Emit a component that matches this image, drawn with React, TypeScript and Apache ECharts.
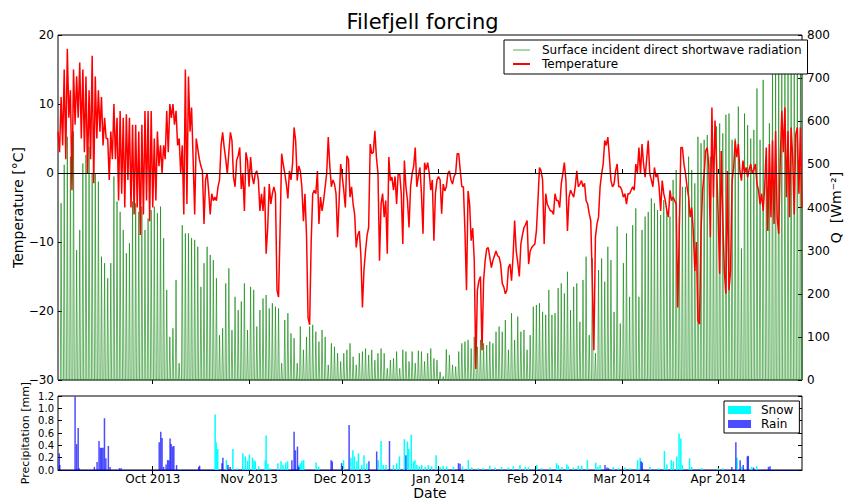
import React, { useEffect, useRef } from "react";
import * as echarts from "echarts";

const FONT = "DejaVu Sans";
const HOUR = 3600 * 1000;
const DAY = 24 * HOUR;
const X_MIN = Date.UTC(2013, 7, 31, 12);
const X_MAX = Date.UTC(2014, 3, 28, 0);

// Temperature [°C], 12-hourly samples starting 2013-08-31 12:00
const TEMP_START = Date.UTC(2013, 7, 31, 12);
const TEMP_STEP = 12 * HOUR;
const temperature = [
  6, 3, 11, 4, 15, 2, 18, 8, 12, -2.5, 15, 7, 14, 8, 16, 5, 15, 3, 14, 0,
  12, 2, 17, -1.5, 14, 5, 12, 6, 11, 4, 8, 5, 5, -1, 6, 2, 10, 2, 8, -4,
  9, -3, 8, -5, 8.5, -1, 8, -5, 7, -6, 7, -5, 6, -9, 7, -6, 9, -4, 9, -7,
  9, -5, 5, -4, 6, 1, 4, 0, 4, 2, 9, 3, 10, 8, 10, 7, 9, 4, 5, 0,
  4, -6, 15, -4.5, 14, 6, 9.5, 2, -6, 5, 3.5, 2, 1, 0.3, -7.4, -1, 0, -2.6, -6, -3,
  -4, -3.5, -4, -2, -1, 4, 5.9, 3.7, 2, -0.1, 3, 5.9, 4.7, -0.6, -2, 1.8, 2.5, 3.7, -2.3, 0,
  -5.5, 3, 1.8, -2, 2.3, -0.5, -1.6, -0.1, 0.3, -1, -5.5, -3, -5.5, -2, -11.7, -8, -1.6, -4.5, -3, -2,
  -3, -17, -18, -7.9, 2.8, 1.3, 0, -1.6, -3.7, 0.3, -1, 1.3, 6.6, 4.7, -1.1, 1, 0.3, -2, -7, -3,
  -9, -21, -22, -10, -3, -2.5, -3, 0.3, -7.4, -3.5, -5.5, -4, -2, 0, 5.2, 1, -2, -1, -1.6, -3,
  -9.3, -4, 1.3, -0.5, -2.6, -5, 2.5, 2, -3.5, -2, -4.5, -6, -10.8, -9, -8.4, -12, -19.5, -14, -11.3, -9,
  -7.9, 4.2, 2.8, 3, 6.1, 2.3, 0, -12.7, -4.5, -3, -6.4, -4, -11.7, 2.3, -1.1, -0.6, -2.5, -0.5, -4.5, -0.1,
  -0.1, -3, -10.3, 1.8, -2, -4, -7.9, -2, -0.1, 1, 3.7, -2, -0.5, 0.8, -3, -8.8, 1.5, 0.5, 1.5, 0,
  -2.5, -1, -9.8, -3, -1, -0.5, -1, -5.9, -1.6, -2.6, -2, -0.1, 0.3, -1, -1.6, -0.5, -0.1, 2.8, 2.8, 0.3,
  -2, -2, -8.4, -17, -2.6, -4.5, -9.8, -8, -12.7, -28.4, -17, -15.6, -15, -25.7, -15.6, -12.7, -11, -10.8, -12.2, -13.7,
  -12.7, -12, -11.3, -12, -12.2, -13.2, -16, -16.5, -17.5, -17, -13.7, -13.2, -15.6, -12, -6.9, -11.3, -13, -15, -10.3, -9,
  -7.9, -7.5, -6.9, -13.2, -11.3, -10.8, -10.5, -10.3, -8.4, -4, 0.8, 0.3, -1, -10.3, -3, -4.5, -5, -5.5, -5.5, -6,
  -3, -4, -4, -5, -1.6, -0.1, 1.5, -1.1, -8.4, -3.5, -2.5, -3, -3.5, -2, 0.3, -2, -1.6, -1.1, -2, -1.5,
  -4, -4.5, -5.9, -6.9, -15.8, -25.7, -9.3, -7.4, -6.4, -2, -0.1, 1.3, 4.7, 4, 5.2, 2.3, -1.1, -2, -1.6, 0.3,
  1.3, -2, -2, -2.5, -3.5, -3, -4.5, -3, -3, -2.5, -2, -2.5, 1.3, 0, 3.7, -0.1, 4.2, 1.3, -0.6, 2,
  4.7, -0.1, -1, -2, 0.8, -0.6, -0.1, -2, -5.5, -1.1, -3, -4, -5.5, -6.4, -2.5, -4, -3.5, -4, -4.5, -19.5,
  -8.4, 3.7, 3.7, 1.3, -0.1, -2, -3.5, -6.4, -5, -8.4, -14.2, -10, -21.4, -21.9, -8.4, -2.5, -0.1, 3.2, 3.7, 1,
  -9.3, 9.5, -3.5, 7.6, 1.3, -5.9, -14.6, 3.2, -6.4, -14.2, -17.5, 0.3, -17, -14.2, -1.1, 0.8, 4.7, 2.3, 4.2, 0.3,
  -1.1, 1.8, -0.1, 0.8, -0.6, 0.5, 1.3, -0.1, 0.5, 1.3, -1.6, -2.5, -4.5, -3, -5.5, -2, 3.7, -8.4, 4.2, -6.4,
  4.7, -7.4, 6.1, -6.4, -8.8, 2, 9, 3, 9.5, -3.5, 6.1, -6.4, 6.6, 2.3, -6, 5.6, 6.6, -3, 6.6, -5,
];

// Daily peak of surface incident direct shortwave radiation [W m-2], one per day from 2013-09-01
const RAD_FIRST_NOON = Date.UTC(2013, 8, 1, 12);
const radiationDailyPeak = [
  410, 499, 564, 518, 576, 301, 348, 502, 522, 541, 479, 479, 460, 286, 271, 236, 271, 472, 414, 390,
  348, 294, 317, 414, 410, 390, 402, 348, 375, 394, 402, 387, 402, 329, 209, 100, 120, 232, 39, 359, 340,
  340, 329, 325, 309, 216, 271, 309, 290, 278, 236, 104, 120, 224, 259, 116, 193, 162, 182, 224, 116,
  216, 209, 124, 162, 189, 197, 166, 178, 170, 166, 39, 139, 155, 108, 97, 39, 124, 70, 100, 124,
  128, 112, 89, 116, 100, 35, 85, 77, 62, 43, 62, 70, 85, 54, 35, 62, 66, 73, 58, 70,
  46, 62, 73, 62, 27, 46, 50, 66, 27, 70, 66, 43, 66, 39, 68, 66, 43, 62, 73, 50,
  46, 19, 8, 71, 58, 35, 31, 66, 85, 89, 93, 73, 100, 77, 93, 85, 81, 89, 85, 112,
  124, 112, 139, 70, 155, 93, 147, 112, 116, 70, 104, 170, 174, 178, 158, 151, 209, 151, 155, 213,
  224, 201, 251, 162, 216, 224, 135, 232, 286, 104, 282, 62, 255, 282, 228, 309, 278, 158, 356, 131,
  271, 340, 193, 359, 398, 193, 348, 379, 390, 421, 410, 394, 383, 417, 394, 379, 464, 487, 379, 448,
  448, 518, 487, 456, 564, 549, 557, 568, 518, 510, 588, 595, 572, 615, 618, 557, 560, 634, 305, 618,
  591, 560, 580, 676, 557, 696, 502, 595, 727, 719, 742, 727, 738, 734, 742, 734, 719, 730, 740,
];

// Precipitation [mm] (UTC "yyyy-mm-dd hh", amount)
const snowfall: [string, number][] = [
  ["2013-10-21 02", 0.9], ["2013-10-21 10", 0.45], ["2013-10-21 17", 0.32], ["2013-10-21 22", 0.34],
  ["2013-10-24 17", 0.16], ["2013-10-26 19", 0.34], ["2013-10-28 02", 0.03], ["2013-10-30 00", 0.27],
  ["2013-10-30 19", 0.22], ["2013-10-31 12", 0.15], ["2013-11-01 02", 0.25], ["2013-11-02 02", 0.2],
  ["2013-11-02 14", 0.16], ["2013-11-03 00", 0.14], ["2013-11-04 02", 0.06], ["2013-11-06 05", 0.16],
  ["2013-11-06 12", 0.56], ["2013-11-07 02", 0.1], ["2013-11-07 19", 0.03], ["2013-11-10 07", 0.11],
  ["2013-11-11 07", 0.14], ["2013-11-11 22", 0.08], ["2013-11-12 19", 0.12], ["2013-11-13 10", 0.14],
  ["2013-11-17 00", 0.08], ["2013-11-17 12", 0.11], ["2013-11-18 00", 0.15], ["2013-11-18 14", 0.16],
  ["2013-11-22 14", 0.12], ["2013-11-23 10", 0.05], ["2013-12-01 10", 0.16], ["2013-12-03 19", 0.2],
  ["2013-12-04 10", 0.32], ["2013-12-04 22", 0.22], ["2013-12-05 17", 0.14], ["2013-12-06 05", 0.27],
  ["2013-12-07 07", 0.08], ["2013-12-08 00", 0.24], ["2013-12-08 22", 0.11], ["2013-12-12 14", 0.16],
  ["2013-12-13 12", 0.47], ["2013-12-14 05", 0.08], ["2013-12-15 02", 0.08], ["2013-12-17 12", 0.08],
  ["2013-12-18 12", 0.11], ["2013-12-19 10", 0.22], ["2013-12-21 00", 0.5], ["2013-12-22 00", 0.46],
  ["2013-12-22 10", 0.34], ["2013-12-23 05", 0.57], ["2013-12-23 22", 0.14], ["2013-12-24 10", 0.16],
  ["2013-12-25 00", 0.08], ["2013-12-25 19", 0.06], ["2013-12-26 14", 0.08], ["2013-12-27 17", 0.05],
  ["2013-12-28 17", 0.08], ["2013-12-29 19", 0.06], ["2013-12-31 05", 0.24], ["2014-01-01 12", 0.05],
  ["2014-01-02 12", 0.07], ["2014-01-03 14", 0.06], ["2014-01-05 19", 0.05], ["2014-01-08 17", 0.06],
  ["2014-01-10 14", 0.16], ["2014-01-11 17", 0.04], ["2014-01-13 19", 0.03], ["2014-01-15 10", 0.03],
  ["2014-01-17 12", 0.07], ["2014-01-19 05", 0.04], ["2014-01-21 07", 0.05], ["2014-01-23 12", 0.04],
  ["2014-01-25 02", 0.06], ["2014-01-27 05", 0.08], ["2014-01-28 22", 0.05], ["2014-01-29 22", 0.04],
  ["2014-02-01 14", 0.08], ["2014-02-03 05", 0.03], ["2014-02-05 22", 0.04], ["2014-02-08 00", 0.11],
  ["2014-02-08 14", 0.08], ["2014-02-09 17", 0.05], ["2014-02-11 07", 0.09], ["2014-02-11 19", 0.06],
  ["2014-02-13 10", 0.04], ["2014-02-15 00", 0.07], ["2014-02-16 02", 0.07], ["2014-02-17 22", 0.16],
  ["2014-02-20 14", 0.12], ["2014-02-21 07", 0.05], ["2014-02-22 00", 0.08], ["2014-02-26 07", 0.05],
  ["2014-02-27 22", 0.03], ["2014-03-02 00", 0.04], ["2014-03-03 17", 0.03], ["2014-03-06 02", 0.16],
  ["2014-03-06 22", 0.2], ["2014-03-10 02", 0.05], ["2014-03-12 19", 0.03], ["2014-03-14 17", 0.31],
  ["2014-03-15 12", 0.09], ["2014-03-16 22", 0.16], ["2014-03-17 14", 0.14], ["2014-03-18 17", 0.22],
  ["2014-03-19 10", 0.59], ["2014-03-20 00", 0.51], ["2014-03-20 12", 0.08], ["2014-03-22 19", 0.19],
  ["2014-03-23 12", 0.05], ["2014-03-26 17", 0.03], ["2014-04-01 02", 0.03], ["2014-04-02 12", 0.03],
  ["2014-04-07 02", 0.2], ["2014-04-08 14", 0.05], ["2014-04-11 19", 0.05], ["2014-04-13 10", 0.06],
];

const rainfall: [string, number][] = [
  ["2013-08-31 22", 0.27], ["2013-09-01 02", 0.08], ["2013-09-06 00", 1.19], ["2013-09-06 12", 0.42],
  ["2013-09-07 00", 0.68], ["2013-09-07 07", 0.03], ["2013-09-12 05", 0.05], ["2013-09-13 02", 0.13],
  ["2013-09-13 17", 0.47], ["2013-09-14 04", 0.36], ["2013-09-14 14", 0.36], ["2013-09-15 00", 0.36],
  ["2013-09-15 11", 0.84], ["2013-09-15 22", 0.19], ["2013-09-16 17", 0.39], ["2013-09-17 06", 0.05],
  ["2013-09-20 07", 0.03], ["2013-09-20 20", 0.03], ["2013-10-03 02", 0.45], ["2013-10-03 14", 0.62],
  ["2013-10-04 00", 0.52], ["2013-10-04 12", 0.05], ["2013-10-05 07", 0.09], ["2013-10-05 19", 0.16],
  ["2013-10-06 05", 0.16], ["2013-10-06 14", 0.51], ["2013-10-06 22", 0.42], ["2013-10-07 09", 0.38],
  ["2013-10-07 19", 0.39], ["2013-10-08 16", 0.08], ["2013-10-15 19", 0.05], ["2013-10-16 02", 0.07],
  ["2013-10-23 07", 0.11], ["2013-10-23 14", 0.2], ["2013-10-25 05", 0.08], ["2013-10-25 22", 0.05],
  ["2013-11-14 19", 0.16], ["2013-11-15 12", 0.62], ["2013-11-15 22", 0.32], ["2013-11-16 14", 0.38],
  ["2013-11-17 00", 0.05], ["2013-11-27 10", 0.16], ["2013-11-27 19", 0.14], ["2013-11-30 19", 0.11],
  ["2013-12-03 05", 0.73], ["2013-12-09 14", 0.14], ["2013-12-12 02", 0.3], ["2013-12-16 05", 0.47],
  ["2013-12-21 12", 0.24], ["2014-01-07 10", 0.11], ["2014-01-07 22", 0.1], ["2014-02-23 14", 0.08],
  ["2014-02-24 05", 0.04], ["2014-02-24 17", 0.03], ["2014-03-07 05", 0.14], ["2014-03-07 14", 0.12],
  ["2014-04-05 10", 0.05], ["2014-04-06 17", 0.45], ["2014-04-08 02", 0.16], ["2014-04-09 02", 0.08],
  ["2014-04-10 10", 0.22], ["2014-04-10 17", 0.23], ["2014-04-12 10", 0.04], ["2014-04-17 05", 0.05],
  ["2014-04-17 17", 0.06],
];

const monthTicks = ["2013-10-01", "2013-11-01", "2013-12-01", "2014-01-01", "2014-02-01", "2014-03-01", "2014-04-01"];
const MONTH_NAMES = ["Jan", "Feb", "Mar", "Apr", "May", "Jun", "Jul", "Aug", "Sep", "Oct", "Nov", "Dec"];

const RAD_NAME = "Surface incident direct shortwave radiation";

const parseHour = (s: string) => Date.parse(s.replace(" ", "T") + ":00:00Z");

export default function App() {
  const ref = useRef<HTMLDivElement>(null);

  useEffect(() => {
    if (!ref.current) return;
    const chart = echarts.init(ref.current, undefined, { renderer: "svg" });

    const monthValues = monthTicks.map((s) => Date.parse(s + "T00:00:00Z"));
    const fmtMonth = (v: number) => {
      const d = new Date(v);
      return `${MONTH_NAMES[d.getUTCMonth()]} ${d.getUTCFullYear()}`;
    };
    const minus = (v: number) => (v < 0 ? "\u2212" + Math.abs(v) : String(v));

    const tempData = temperature.map((t, i) => [TEMP_START + i * TEMP_STEP, t]);
    const radData: [number, number][] = [];
    radiationDailyPeak.forEach((q, k) => {
      const noon = RAD_FIRST_NOON + k * DAY;
      radData.push([noon - 0.25 * DAY, 0], [noon, q], [noon + 0.25 * DAY, 0]);
    });
    const snowData = snowfall.map(([s, v]) => [parseHour(s), v]);
    const rainData = rainfall.map(([s, v]) => [parseHour(s), v]);

    const tick = { show: true, inside: true, length: 4, customValues: monthValues, lineStyle: { color: "#000", width: 1 } };
    const xAxis = (gridIndex: number, position: string, label: boolean, extra: any = {}) => ({
      type: "value",
      gridIndex,
      position,
      min: X_MIN,
      max: X_MAX,
      axisLine: { show: false },
      axisTick: tick,
      axisLabel: label
        ? {
            show: true,
            customValues: monthValues,
            formatter: fmtMonth,
            fontSize: 12,
            lineHeight: 12,
            color: "#000",
            margin: 3,
            fontFamily: FONT,
          }
        : { show: false },
      splitLine: { show: false },
      ...extra,
    });
    const yTick = { show: true, inside: true, length: 4, lineStyle: { color: "#000", width: 1 } };

    const option: any = {
      animation: false,
      backgroundColor: "#fff",
      textStyle: { fontFamily: FONT, color: "#000" },
      title: {
        text: "Filefjell forcing",
        left: "center",
        top: 11,
        padding: 0,
        textStyle: { fontFamily: FONT, fontSize: 21, fontWeight: "normal", color: "#000" },
      },
      legend: [
        {
          data: [
            { name: RAD_NAME, icon: "path://M0,0H17V1H0Z" },
            { name: "Temperature", icon: "path://M0,0H17V2H0Z" },
          ],
          orient: "vertical",
          left: 504,
          top: 40,
          padding: [4, 6, 4, 9],
          itemGap: 2,
          itemWidth: 17,
          itemHeight: 12,
          symbolKeepAspect: true,
          borderColor: "#000",
          borderWidth: 1,
          borderRadius: 0,
          backgroundColor: "#fff",
          selectedMode: false,
          textStyle: { fontFamily: FONT, fontSize: 12, color: "#000", padding: [0, 0, 0, 7] },
        },
        {
          data: ["Snow", "Rain"],
          orient: "vertical",
          left: 724,
          top: 401,
          padding: [3, 6, 3, 4],
          itemGap: 2,
          itemWidth: 23,
          itemHeight: 8,
          icon: "rect",
          borderColor: "#000",
          borderWidth: 1,
          borderRadius: 0,
          backgroundColor: "#fff",
          selectedMode: false,
          textStyle: { fontFamily: FONT, fontSize: 12, color: "#000", padding: [0, 0, 0, 5] },
        },
      ],
      grid: [
        { left: 58, top: 35, width: 744, height: 345, show: true, borderColor: "#000", borderWidth: 1, outerBoundsMode: "none", containLabel: false },
        { left: 58, top: 396, width: 744, height: 74, show: true, borderColor: "#000", borderWidth: 1, outerBoundsMode: "none", containLabel: false },
      ],
      xAxis: [
        xAxis(0, "bottom", false),
        xAxis(0, "top", false),
        xAxis(1, "bottom", true, {
          name: "Date",
          nameLocation: "middle",
          nameGap: 17,
          nameMoveOverlap: false,
          nameTextStyle: { fontFamily: FONT, fontSize: 14, lineHeight: 11, color: "#000", verticalAlign: "top" },
          axisLine: { show: true, lineStyle: { color: "#00008b", width: 1 } },
        }),
        xAxis(1, "top", false),
      ],
      yAxis: [
        {
          type: "value",
          gridIndex: 0,
          position: "left",
          min: -30,
          max: 20,
          interval: 10,
          name: "Temperature [°C]",
          nameLocation: "middle",
          nameRotate: 90,
          nameGap: 33,
          nameMoveOverlap: false,
          nameTextStyle: { fontFamily: FONT, fontSize: 14, color: "#000" },
          axisLine: { show: false },
          axisTick: yTick,
          axisLabel: { formatter: minus, fontSize: 12, color: "#000", margin: 4, fontFamily: FONT },
          splitLine: { show: false },
        },
        {
          type: "value",
          gridIndex: 0,
          position: "right",
          min: 0,
          max: 800,
          interval: 100,
          name: "Q  [Wm\u207B\u00B2]",
          nameLocation: "middle",
          nameRotate: 90,
          nameGap: 27,
          nameMoveOverlap: false,
          nameTextStyle: { fontFamily: FONT, fontSize: 14, color: "#000" },
          axisLine: { show: false },
          axisTick: yTick,
          axisLabel: { fontSize: 12, color: "#000", margin: 5, fontFamily: FONT },
          splitLine: { show: false },
        },
        {
          type: "value",
          gridIndex: 1,
          position: "left",
          min: 0,
          max: 1.2,
          interval: 0.2,
          name: "Precipitation [mm]",
          nameLocation: "middle",
          nameRotate: 90,
          nameGap: 27,
          nameMoveOverlap: false,
          nameTextStyle: { fontFamily: FONT, fontSize: 11, color: "#000" },
          axisLine: { show: false },
          axisTick: yTick,
          axisLabel: {
            formatter: (v: number) => v.toFixed(1),
            fontSize: 10,
            color: "#000",
            margin: 4,
            fontFamily: FONT,
            showMinLabel: true,
            showMaxLabel: true,
          },
          splitLine: { show: false },
        },
        {
          type: "value",
          gridIndex: 1,
          position: "right",
          min: 0,
          max: 1.2,
          interval: 0.2,
          axisLine: { show: false },
          axisTick: yTick,
          axisLabel: { show: false },
          splitLine: { show: false },
        },
      ],
      series: [
        {
          name: RAD_NAME,
          type: "line",
          xAxisIndex: 0,
          yAxisIndex: 1,
          data: radData,
          symbol: "none",
          showSymbol: false,
          silent: true,
          z: 1,
          lineStyle: { color: "#008000", width: 1, opacity: 0.6 },
          itemStyle: { color: "#008000", opacity: 0.65 },
        },
        {
          name: "Temperature",
          type: "line",
          xAxisIndex: 0,
          yAxisIndex: 0,
          data: tempData,
          symbol: "none",
          showSymbol: false,
          silent: true,
          z: 3,
          lineStyle: { color: "#ff0000", width: 1.5 },
          itemStyle: { color: "#ff0000" },
          markLine: {
            silent: true,
            symbol: "none",
            label: { show: false },
            lineStyle: { color: "#000", width: 1, type: "solid" },
            data: [{ yAxis: 0 }],
          },
        },
        {
          name: "Snow",
          type: "bar",
          xAxisIndex: 2,
          yAxisIndex: 2,
          data: snowData,
          barWidth: 1.5,
          barGap: "-100%",
          silent: true,
          itemStyle: { color: "#00ffff" },
        },
        {
          name: "Rain",
          type: "bar",
          xAxisIndex: 2,
          yAxisIndex: 2,
          data: rainData,
          barWidth: 1.5,
          barGap: "-100%",
          silent: true,
          itemStyle: { color: "rgba(0,0,255,0.7)" },
        },
      ],
    };

    chart.setOption(option);
    return () => chart.dispose();
  }, []);

  return (
    <div
      ref={ref}
      style={{ position: "fixed", left: 0, top: 0, width: 845, height: 498, background: "#fff" }}
    />
  );
}
